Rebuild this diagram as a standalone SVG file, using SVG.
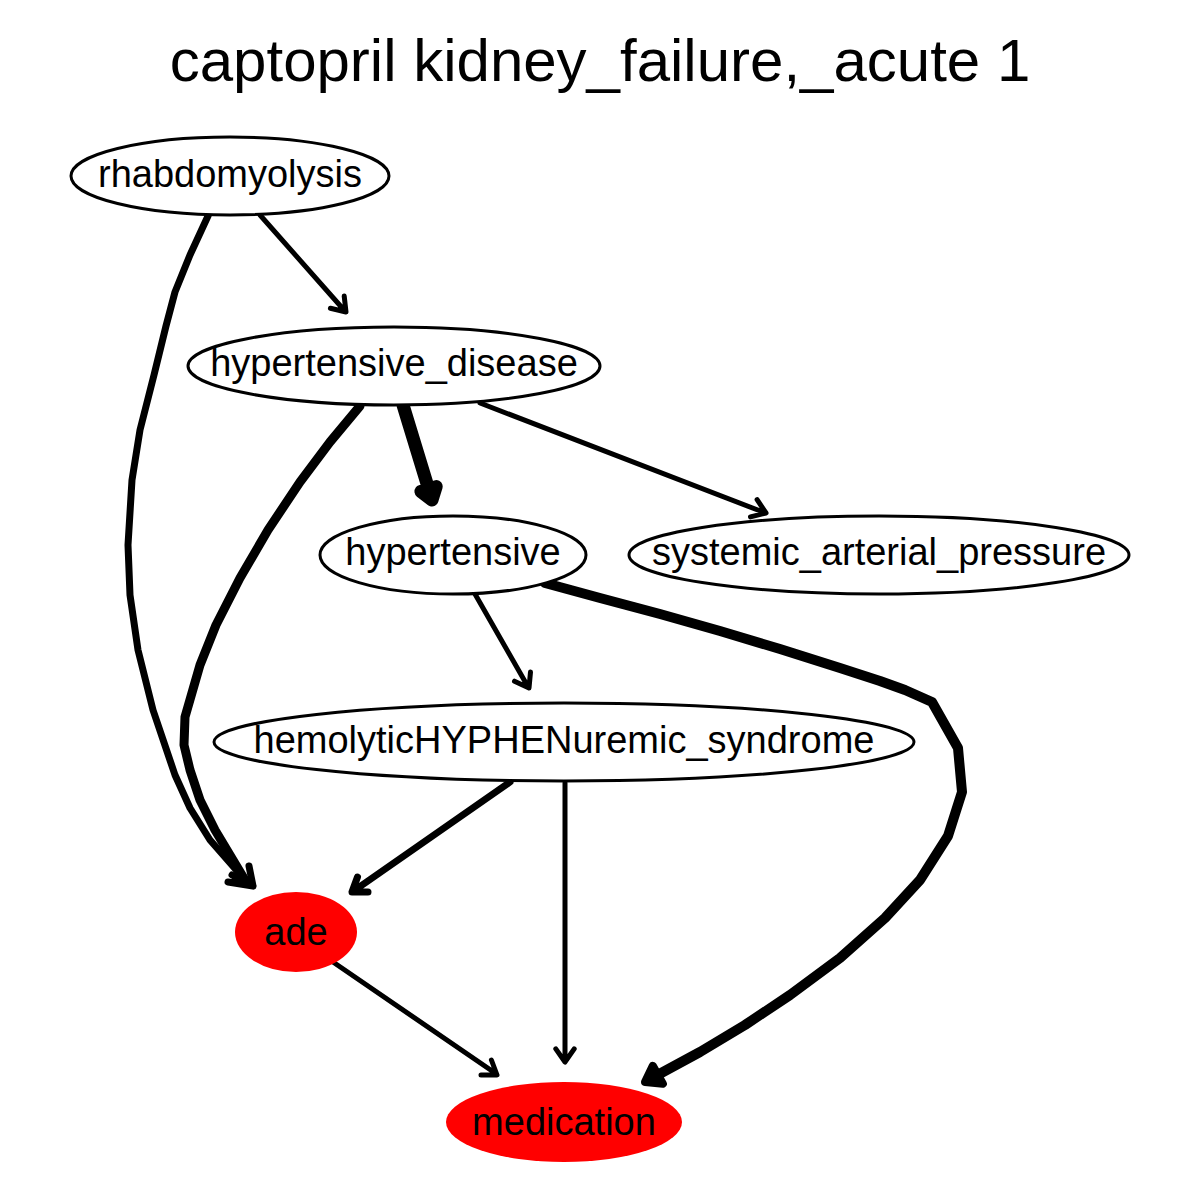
<svg xmlns="http://www.w3.org/2000/svg" width="1200" height="1200" viewBox="0 0 1200 1200">
<style>
.n{fill:#fff;stroke:#000;stroke-width:3}
.r{fill:#ff0000;stroke:none}
.t{font-family:"Liberation Sans",Arial,sans-serif;font-size:38px;text-anchor:middle;fill:#000}
.e{fill:none;stroke:#000;stroke-linecap:round;stroke-linejoin:round}
</style>
<rect width="1200" height="1200" fill="#fff"/>
<text x="600" y="81" style="font-family:'Liberation Sans',Arial,sans-serif;font-size:60px;text-anchor:middle">captopril kidney_failure,_acute 1</text>
<g id="edges">
<path class="e" stroke-width="5" d="M260,215 L344,310 M344.2,296.1 L346,312 L330.4,308.3"/>
<path class="e" stroke-width="7" d="M208,216 L190,255 L175,292 L166,326 L154,375 L140,430 L132,480 L128,545 L130,595 L138,650 L153,710 L175,775 L190,808 L210,840 L245,880"/>
<path class="e" stroke-width="9" d="M360,406 L330,442 L300,482 L268,530 L240,578 L216,625 L200,665 L185,717 L184,745 L190,770 L200,800 L215,830 L245,880"/>
<path class="e" stroke-width="7" d="M253,886 L228,882 M253,886 L249,866 M253,886 L232,875"/>
<path class="e" stroke-width="13" d="M403,405 L428,487 M436.2,486.6 L432,500 L420.9,491.5 Z"/>
<path class="e" stroke-width="5" d="M480,403 L763,512 M757.1,499.7 L766,513 L750.5,516.9"/>
<path class="e" stroke-width="5" d="M475,594 L527,685 M530.5,672.1 L529,688 L514.5,681.2"/>
<path class="e" stroke-width="10" d="M545,583 L600,598 L660,614 L720,631 L780,649 L840,668 L880,681 L905,690 L932,702 L958,748 L962,792 L948,836 L920,880 L885,918 L840,958 L790,995 L745,1025 L700,1052 L652,1078"/>
<path class="e" stroke-width="8" d="M662.9,1083.8 L645,1082 L652.8,1065.8 Z"/>
<path class="e" stroke-width="7" d="M510,782 L355,890 M368,892 L352,892 L357.5,877"/>
<path class="e" stroke-width="5" d="M565,783 L565,1060 M574.2,1048.9 L565,1062 L555.8,1048.9"/>
<path class="e" stroke-width="5" d="M333,962 L495,1073 M491.4,1060 L497,1075 L481,1075"/>
</g>
<g id="node-rhabdomyolysis"><ellipse class="n" cx="230" cy="176" rx="159" ry="39"/><text class="t" x="230" y="187">rhabdomyolysis</text></g>
<g id="node-hypertensive_disease"><ellipse class="n" cx="394" cy="366" rx="206" ry="39"/><text class="t" x="394" y="376">hypertensive_disease</text></g>
<g id="node-hypertensive"><ellipse class="n" cx="453" cy="555" rx="133" ry="39"/><text class="t" x="453" y="565">hypertensive</text></g>
<g id="node-systemic_arterial_pressure"><ellipse class="n" cx="879" cy="555" rx="250" ry="39"/><text class="t" x="879" y="565">systemic_arterial_pressure</text></g>
<g id="node-hemolytic"><ellipse class="n" cx="564" cy="742" rx="350" ry="39"/><text class="t" x="564" y="753">hemolyticHYPHENuremic_syndrome</text></g>
<g id="node-ade"><ellipse class="r" cx="296" cy="932" rx="61" ry="40"/><text class="t" x="296" y="945">ade</text></g>
<g id="node-medication"><ellipse class="r" cx="564" cy="1122" rx="118" ry="40"/><text class="t" x="564" y="1135">medication</text></g>
</svg>
